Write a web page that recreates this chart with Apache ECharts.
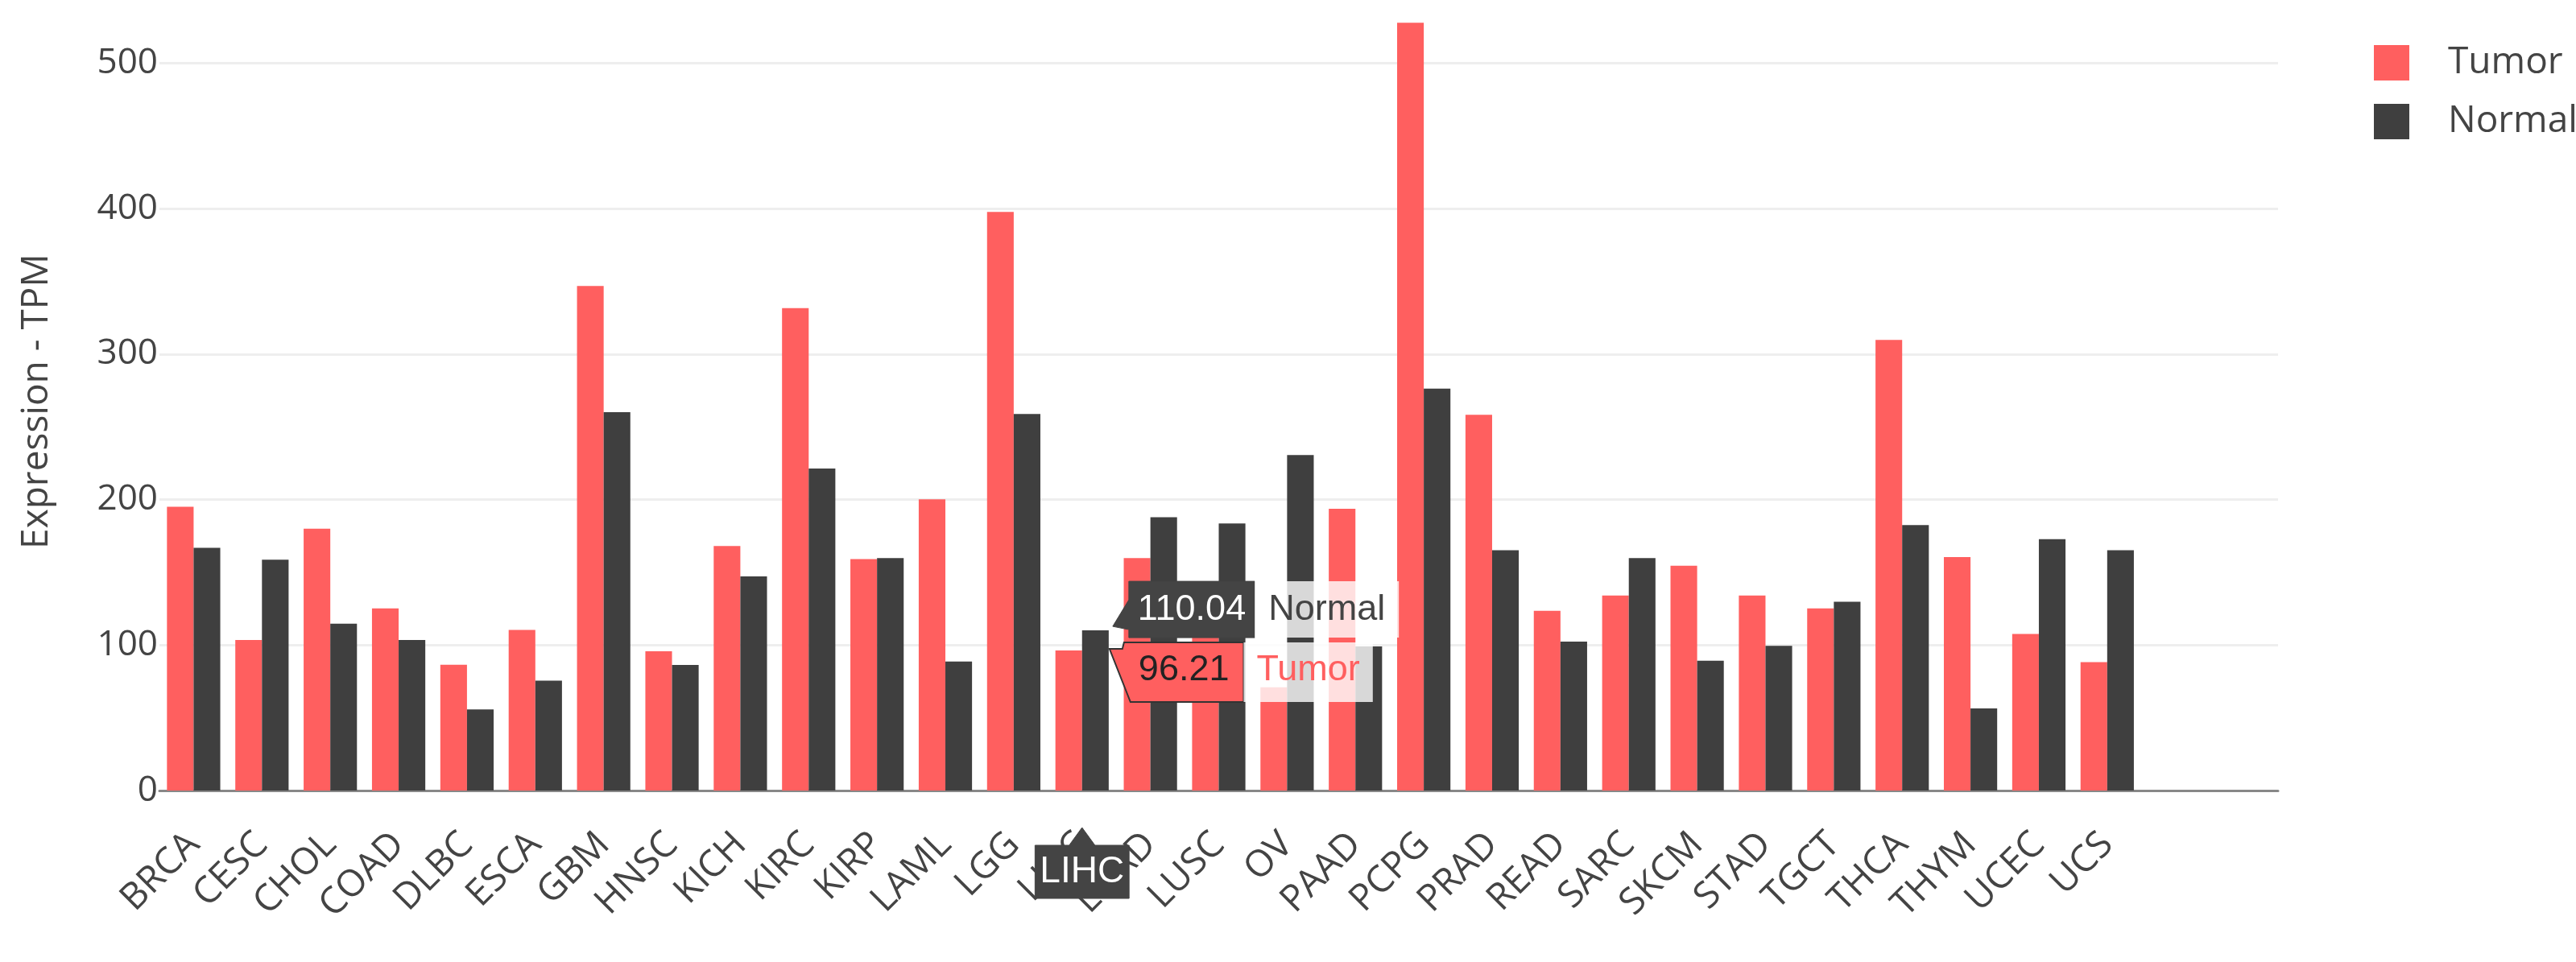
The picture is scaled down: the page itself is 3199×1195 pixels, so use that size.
<!DOCTYPE html>
<html>
<head>
<meta charset="utf-8">
<style>
html,body{margin:0;padding:0;background:#fff;}
#c{width:3199px;height:1195px;}
</style>
<script src="https://cdn.jsdelivr.net/npm/echarts@6/dist/echarts.min.js"></script>
</head>
<body>
<div id="c"></div>
<script>
const categories = ['BRCA','CESC','CHOL','COAD','DLBC','ESCA','GBM','HNSC','KICH','KIRC','KIRP','LAML','LGG','LIHC','LUAD','LUSC','OV','PAAD','PCPG','PRAD','READ','SARC','SKCM','STAD','TGCT','THCA','THYM','UCEC','UCS'];
const tumor  = [195, 103.4, 179.9, 125.2, 86.4, 110.4, 346.7, 95.7, 168.1, 331.6, 159, 200.2, 397.7, 96.21, 159.8, 125, 71, 193.6, 527.7, 258.2, 123.5, 134, 154.5, 134, 125.2, 309.7, 160.5, 107.6, 88.2];
const normal = [166.8, 158.7, 114.6, 103.4, 55.7, 75.5, 260, 86.3, 147.1, 221.3, 159.7, 88.7, 258.8, 110.04, 187.8, 183.6, 230.6, 99, 276.2, 165.1, 102.3, 159.8, 89.2, 99.5, 129.8, 182.4, 56.4, 172.8, 165.1];
const seriesNames = ['Tumor', 'Normal'];
const hoverCategory = 'LIHC';
const yTitle = 'Expression - TPM';

const RED = '#ff5f5f';
const DARK = '#3f3f3f';
const TXT = '#444444';

const chart = echarts.init(document.getElementById('c'));
chart.setOption({
  animation: false,
  backgroundColor: '#ffffff',
  grid: { left: 198, right: 370, top: 15, bottom: 213 },
  legend: {
    orient: 'vertical', left: 2943, top: 50,
    itemWidth: 44, itemHeight: 44, itemGap: 27, icon: 'rect',
    textStyle: { fontSize: 46, fontFamily: 'Open Sans', color: TXT, padding: [0,0,0,43], lineHeight: 44 },
    data: seriesNames
  },
  xAxis: {
    type: 'category', data: categories, max: 30,
    axisLine: { lineStyle: { color: '#888888', width: 3 } },
    axisTick: { show: false },
    splitLine: { show: false },
    axisLabel: { rotate: 45, interval: 0, margin: 60, fontSize: 46, fontFamily: 'Open Sans', color: TXT }
  },
  yAxis: {
    type: 'value', min: 0, max: 535, interval: 100,
    axisLine: { show: false }, axisTick: { show: false },
    axisLabel: { margin: 2, fontSize: 44, fontFamily: 'Open Sans', color: TXT, showMaxLabel: false },
    splitLine: { lineStyle: { color: '#eeeeee', width: 3 }, showMaxLine: false },
    name: yTitle, nameLocation: 'middle', nameRotate: 90, nameGap: 129,
    nameTextStyle: { fontSize: 46, fontFamily: 'Open Sans', color: TXT }
  },
  series: [
    { name: seriesNames[0], type: 'bar', data: tumor, itemStyle: { color: RED }, barGap: '0%', barCategoryGap: '22%' },
    { name: seriesNames[1], type: 'bar', data: normal, itemStyle: { color: DARK }, barGap: '0%', barCategoryGap: '22%' }
  ]
});

// hover annotations (plotly-style), positioned from the data through the axes
const ctx = document.createElement('canvas').getContext('2d');
const HF = '"Liberation Sans", Arial, sans-serif';
function tw(s, size) { ctx.font = size + 'px ' + HF; return ctx.measureText(s).width; }

const idx = categories.indexOf(hoverCategory);
const xc = chart.convertToPixel({ xAxisIndex: 0 }, idx);
const step = chart.convertToPixel({ xAxisIndex: 0 }, idx + 1) - xc;
const y0 = chart.convertToPixel({ yAxisIndex: 0 }, 0);
const yN = chart.convertToPixel({ yAxisIndex: 0 }, normal[idx]);
const yT = chart.convertToPixel({ yAxisIndex: 0 }, tumor[idx]);
const barW = step * 0.39;
const tipX = xc + barW + 3;

const g = [];
// Normal label
{
  const s = normal[idx].toFixed(2), nm = seriesNames[1];
  const tx = tipX + 2, ty = yN - 5;
  const L = tx + 20, top = ty - 56, h = 70, W = tw(s, 45) + 22;
  g.push({ type: 'polygon', z: 100, shape: { points: [[tx, ty], [L, ty - 33], [L, top], [L + W, top], [L + W, top + h], [L, top + h], [L, ty + 4]] },
           style: { fill: '#444444', stroke: '#444444', lineWidth: 1 } });
  g.push({ type: 'text', z: 101, style: { text: s, x: L + W / 2, y: top + h / 2, align: 'center', verticalAlign: 'middle', fontSize: 45, fontFamily: HF, fill: '#ffffff' } });
  const nw = tw(nm, 45) + 34;
  g.push({ type: 'rect', z: 100, shape: { x: L + W, y: top, width: nw, height: h }, style: { fill: 'rgba(255,255,255,0.8)' } });
  g.push({ type: 'text', z: 101, style: { text: nm, x: L + W + 17, y: top + h / 2, align: 'left', verticalAlign: 'middle', fontSize: 45, fontFamily: HF, fill: '#444444' } });
}
// Tumor label
{
  const s = tumor[idx].toFixed(2), nm = seriesNames[0];
  const tx = tipX - 2, ty = yT - 2;
  const top = ty - 8, h = 74, Lb = tx + 26, R = Lb + tw(s, 45) + 28;
  g.push({ type: 'polygon', z: 100, shape: { points: [[tx, ty], [tx + 16, ty], [tx + 18, top], [R, top], [R, top + h], [Lb, top + h]] },
           style: { fill: RED, stroke: '#333333', lineWidth: 2 } });
  g.push({ type: 'text', z: 101, style: { text: s, x: (tx + 18 + R) / 2, y: top + h / 2 - 3, align: 'center', verticalAlign: 'middle', fontSize: 45, fontFamily: HF, fill: '#222222' } });
  const nw = tw(nm, 45) + 32;
  g.push({ type: 'rect', z: 100, shape: { x: R, y: top, width: nw, height: h }, style: { fill: 'rgba(255,255,255,0.8)' } });
  g.push({ type: 'text', z: 101, style: { text: nm, x: R + 16, y: top + h / 2 - 3, align: 'left', verticalAlign: 'middle', fontSize: 45, fontFamily: HF, fill: RED } });
}
// x-axis hover label
{
  const s = hoverCategory;
  const bw = tw(s, 46) + 12, bx = xc - bw / 2;
  const bt = y0 + 68, bb = y0 + 134;
  g.push({ type: 'polygon', z: 100, shape: { points: [[bx, bt], [xc - 16, bt], [xc, y0 + 46], [xc + 16, bt], [bx + bw, bt], [bx + bw, bb], [bx, bb]] },
           style: { fill: '#444444', stroke: '#444444', lineWidth: 1 } });
  g.push({ type: 'text', z: 101, style: { text: s, x: xc, y: (bt + bb) / 2, align: 'center', verticalAlign: 'middle', fontSize: 46, fontFamily: HF, fill: '#ffffff' } });
}
chart.setOption({ graphic: g });
</script>
</body>
</html>
